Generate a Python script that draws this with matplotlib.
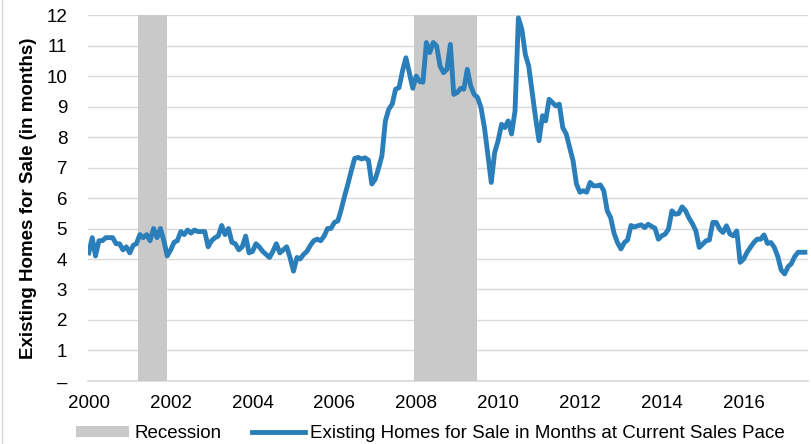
import numpy as np
import pandas as pd
import matplotlib
matplotlib.use('Agg')
import matplotlib.pyplot as plt
import matplotlib.dates as mdates
from matplotlib.ticker import FuncFormatter
from matplotlib.lines import Line2D
from matplotlib.patches import Patch

plt.rcParams['font.family'] = ['Liberation Sans', 'DejaVu Sans']

# months' supply, monthly from Jan 2000 to Jul 2017
supply = [
    4.2, 4.7, 4.1, 4.6, 4.6, 4.7, 4.7, 4.7, 4.5, 4.5, 4.3, 4.4,            # 2000
    4.2, 4.45, 4.5, 4.8, 4.7, 4.8, 4.6, 5.0, 4.7, 5.0, 4.6, 4.1,           # 2001
    4.3, 4.55, 4.6, 4.9, 4.8, 4.95, 4.85, 4.95, 4.9, 4.9, 4.9, 4.4,        # 2002
    4.6, 4.7, 4.75, 5.1, 4.8, 5.0, 4.55, 4.5, 4.3, 4.4, 4.75, 4.2,         # 2003
    4.25, 4.5, 4.4, 4.25, 4.15, 4.05, 4.25, 4.5, 4.2, 4.3, 4.4, 4.05,      # 2004
    3.6, 4.05, 4.0, 4.15, 4.25, 4.45, 4.6, 4.65, 4.6, 4.75, 5.0, 5.0,      # 2005
    5.2, 5.25, 5.6, 6.05, 6.45, 6.9, 7.3, 7.33, 7.28, 7.32, 7.24, 6.46,    # 2006
    6.62, 7.0, 7.39, 8.53, 8.91, 9.08, 9.57, 9.62, 10.17, 10.6, 10.11, 9.6,  # 2007
    10.0, 9.82, 9.8, 11.1, 10.77, 11.1, 10.99, 10.33, 10.11, 10.22, 11.04, 9.4,  # 2008
    9.46, 9.6, 9.57, 10.22, 9.68, 9.4, 9.3, 8.97, 8.31, 7.44, 6.51, 7.49,  # 2009
    7.88, 8.42, 8.31, 8.53, 8.1, 8.86, 11.91, 11.53, 10.71, 10.33, 9.46, 8.64,  # 2010
    7.88, 8.7, 8.53, 9.24, 9.13, 9.02, 9.08, 8.31, 8.1, 7.66, 7.22, 6.46,  # 2011
    6.19, 6.24, 6.19, 6.51, 6.4, 6.4, 6.43, 6.24, 5.58, 5.36, 4.84, 4.54,  # 2012
    4.33, 4.54, 4.62, 5.1, 5.05, 5.09, 5.12, 5.03, 5.14, 5.07, 5.01, 4.65, # 2013
    4.76, 4.82, 4.98, 5.58, 5.47, 5.49, 5.71, 5.58, 5.34, 5.16, 4.92, 4.38,  # 2014
    4.49, 4.6, 4.62, 5.2, 5.2, 4.98, 4.87, 5.09, 4.82, 4.76, 4.92, 3.89,   # 2015
    4.0, 4.22, 4.38, 4.54, 4.65, 4.65, 4.79, 4.51, 4.54, 4.38, 4.08, 3.64, # 2016
    3.51, 3.75, 3.84, 4.08, 4.22, 4.22, 4.22,                              # 2017
]
dates = pd.date_range('2000-01-01', periods=len(supply), freq='MS')

recession_start = ['2001-03-15', '2007-12-15']
recession_end = ['2001-11-30', '2009-06-30']

tick_years = list(range(2000, 2017, 2))
y_ticks = list(range(0, 13))

line_color = '#2a7fba'
grid_color = '#d9d9d9'
rec_color = '#c9c9c9'
fs = 13.5

fig = plt.figure(figsize=(8.11, 4.44), dpi=100)
ax = fig.add_axes([0.1085, 0.142, 0.888, 0.824])

for s, e in zip(recession_start, recession_end):
    ax.axvspan(pd.Timestamp(s), pd.Timestamp(e), color=rec_color, lw=0, zorder=1)

ax.plot(dates, supply, color=line_color, lw=3.5, solid_joinstyle='round', zorder=3)

ax.set_ylim(0, 12)
ax.set_yticks(y_ticks)
ax.yaxis.set_major_formatter(FuncFormatter(lambda v, p: '–' if v == 0 else f'{int(v)}'))
ax.set_xlim(pd.Timestamp('1999-12-25'), pd.Timestamp('2017-07-30'))
ax.set_xticks([pd.Timestamp(f'{y}-01-01') for y in tick_years])
ax.xaxis.set_major_formatter(mdates.DateFormatter('%Y'))

ax.grid(axis='y', color=grid_color, lw=1, zorder=0)
ax.set_axisbelow(True)
for side in ['left', 'right', 'top']:
    ax.spines[side].set_visible(False)
ax.spines['bottom'].set_color(grid_color)
ax.spines['bottom'].set_linewidth(1.2)
ax.spines['bottom'].set_zorder(0.5)

ax.tick_params(axis='both', length=0, labelsize=fs, colors='black')
ax.tick_params(axis='y', pad=15)
ax.tick_params(axis='x', pad=10)

ax.set_ylabel('Existing Homes for Sale (in months)', fontsize=fs, fontweight='bold', labelpad=7)

handles = [Patch(facecolor=rec_color, edgecolor='none'),
           Line2D([], [], color=line_color, lw=3.5)]
labels = ['Recession', 'Existing Homes for Sale in Months at Current Sales Pace']
fig.legend(handles, labels, loc='center', bbox_to_anchor=(0.531, 0.024), ncol=2,
           frameon=False, fontsize=fs, handlelength=2.8, handleheight=0.55,
           handletextpad=0.3, columnspacing=1.65, borderpad=0)

fig.add_artist(Line2D([0.003, 0.003], [0, 1], color=grid_color, lw=1, transform=fig.transFigure))

fig.savefig('out.png', dpi=100)
